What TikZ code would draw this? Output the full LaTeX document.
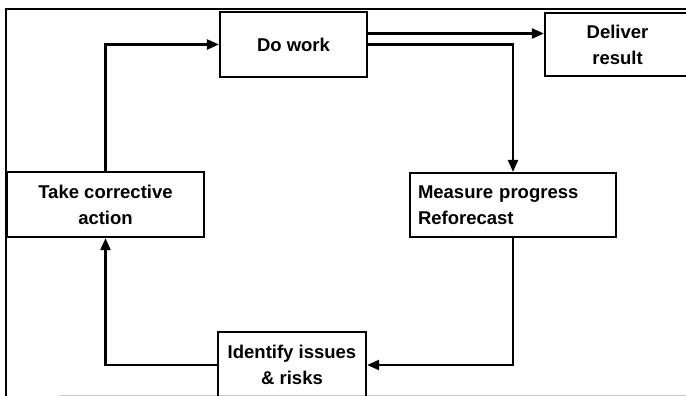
\documentclass[tikz,border=0pt]{standalone}
\usepackage{fontspec}
\setmainfont{Liberation Sans}
\usetikzlibrary{arrows.meta}
\begin{document}
\begin{tikzpicture}[x=1pt,y=-1pt,
  box/.style={draw,line width=2.2pt,inner sep=0pt,align=center,
    font=\fontsize{18.5}{26}\selectfont\bfseries},
  conn/.style={line width=2.2pt},
  arr/.style={conn,-{Triangle[length=12pt,width=10pt]}}]
\useasboundingbox (0,0) rectangle (686,396);
\draw[line width=2.4pt] (686,9) -- (6,9) -- (6,396);
\draw[line width=1pt,gray!45] (60,395) -- (686,395);
\node[box,minimum width=147pt,minimum height=65pt] (dw) at (293.5,44.5) {Do work};
\node[box,fill=white,minimum width=145pt,minimum height=63pt] (dr) at (617.5,44.5) {Deliver\\result};
\node[box,minimum width=206pt,minimum height=64pt,text width=190pt,align=left] (mp) at (513,205) {Measure progress\\Reforecast};
\node[box,fill=white,minimum width=197pt,minimum height=65pt] (tc) at (105.5,204.5) {Take corrective\\action};
\node[box,minimum width=148pt,minimum height=66pt] (ii) at (292,365) {Identify issues\\\& risks};
\draw[arr] ([yshift=11pt]dw.east) -- ([yshift=11pt]dr.west);
\draw[arr] (dw.east) -| (mp.north);
\draw[arr] (mp.south) |- (ii.east);
\draw[arr] (ii.west) -| (tc.south);
\draw[arr] (tc.north) |- (dw.west);
\end{tikzpicture}
\end{document}
